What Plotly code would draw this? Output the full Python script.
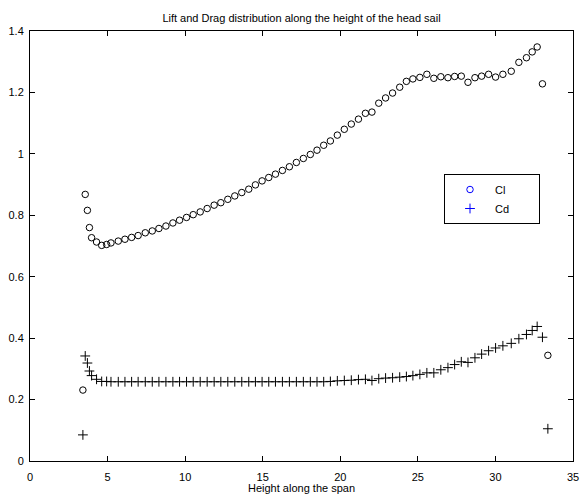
import plotly.graph_objects as go

# Spanwise stations along the head sail and the sectional coefficients
height = [3.41, 3.56, 3.70, 3.83, 3.97, 4.29, 4.62, 4.94, 5.22, 5.69,
          6.12, 6.55, 6.97, 7.43, 7.88, 8.31, 8.76, 9.21, 9.64, 10.09,
          10.52, 10.97, 11.42, 11.87, 12.30, 12.75, 13.20, 13.65, 14.10, 14.53,
          14.96, 15.39, 15.82, 16.27, 16.72, 17.17, 17.62, 18.07, 18.50, 18.93,
          19.36, 19.81, 20.26, 20.71, 21.17, 21.62, 22.04, 22.48, 22.92, 23.37,
          23.83, 24.26, 24.68, 25.13, 25.58, 26.03, 26.48, 26.94, 27.37, 27.80,
          28.23, 28.68, 29.11, 29.56, 30.01, 30.48, 31.02, 31.51, 32.00, 32.37,
          32.69, 33.03, 33.38]

cl = [0.231, 0.868, 0.816, 0.760, 0.727, 0.713, 0.702, 0.705, 0.710, 0.716,
      0.722, 0.728, 0.734, 0.743, 0.749, 0.757, 0.765, 0.775, 0.784, 0.793,
      0.802, 0.811, 0.822, 0.833, 0.841, 0.852, 0.863, 0.874, 0.885, 0.899,
      0.912, 0.923, 0.934, 0.946, 0.958, 0.972, 0.985, 0.998, 1.012, 1.028,
      1.042, 1.061, 1.080, 1.097, 1.113, 1.132, 1.136, 1.165, 1.182, 1.198,
      1.217, 1.236, 1.244, 1.249, 1.259, 1.246, 1.251, 1.248, 1.252, 1.253,
      1.233, 1.248, 1.253, 1.259, 1.250, 1.259, 1.269, 1.298, 1.313, 1.332,
      1.348, 1.228, 0.344]

cd = [0.085, 0.342, 0.319, 0.293, 0.278, 0.266, 0.259, 0.259, 0.258, 0.258,
      0.258, 0.258, 0.258, 0.258, 0.258, 0.258, 0.258, 0.258, 0.258, 0.258,
      0.258, 0.258, 0.258, 0.258, 0.258, 0.258, 0.258, 0.258, 0.258, 0.258,
      0.258, 0.258, 0.258, 0.258, 0.258, 0.258, 0.258, 0.258, 0.258, 0.258,
      0.259, 0.261, 0.262, 0.263, 0.265, 0.266, 0.262, 0.268, 0.270, 0.271,
      0.273, 0.275, 0.278, 0.282, 0.287, 0.287, 0.297, 0.304, 0.314, 0.323,
      0.321, 0.336, 0.348, 0.359, 0.368, 0.375, 0.383, 0.398, 0.412, 0.425,
      0.438, 0.403, 0.105]

x_ticks = [0, 5, 10, 15, 20, 25, 30, 35]
y_ticks = [0, 0.2, 0.4, 0.6, 0.8, 1.0, 1.2, 1.4]
y_tick_labels = ["0", "0.2", "0.4", "0.6", "0.8", "1", "1.2", "1.4"]

FONT = "Liberation Sans, Arial, Helvetica, sans-serif"
W, H = 581, 495
L, R, T, B = 30, 8, 31, 34
PW, PH = W - L - R, H - T - B

fig = go.Figure()

# Data markers (black)
fig.add_trace(go.Scatter(
    x=height, y=cl, mode="markers", showlegend=False, name="Cl",
    marker=dict(symbol="circle-open", size=6.5, color="black",
                line=dict(width=1, color="black")),
))
fig.add_trace(go.Scatter(
    x=height, y=cd, mode="markers", showlegend=False, name="Cd",
    marker=dict(symbol="cross-thin-open", size=7, color="black",
                line=dict(width=1, color="black")),
))

# Legend keys (blue)
nb = "\u00a0" * 8
fig.add_trace(go.Scatter(
    x=[None], y=[None], mode="markers", name="Cl" + nb,
    marker=dict(symbol="circle-open", size=6.5, color="#0000ff",
                line=dict(width=1, color="#0000ff")),
))
fig.add_trace(go.Scatter(
    x=[None], y=[None], mode="markers", name="Cd" + nb,
    marker=dict(symbol="cross-thin-open", size=7, color="#0000ff",
                line=dict(width=1, color="#0000ff")),
))

axis_common = dict(
    showline=True, linecolor="black", linewidth=1, mirror="ticks",
    ticks="inside", ticklen=5, tickcolor="black", tickwidth=1,
    showgrid=False, zeroline=False, automargin=False,
    tickfont=dict(family=FONT, size=11, color="black"),
)

fig.update_layout(
    width=W, height=H,
    margin=dict(l=L, r=R, t=T, b=B, pad=0, autoexpand=False),
    paper_bgcolor="white", plot_bgcolor="white",
    font=dict(family=FONT, size=11, color="black"),
    title=dict(text="Lift and Drag distribution along the height of the head sail",
               x=(L + PW / 2) / W, xanchor="center",
               y=1 - 18.5 / H, yanchor="middle", yref="container",
               font=dict(family=FONT, size=11, color="black")),
    xaxis=dict(range=[0, 35], tickvals=x_ticks, ticklabelstandoff=6,
               **axis_common),
    yaxis=dict(range=[0, 1.4], tickvals=y_ticks, ticktext=y_tick_labels,
               ticklabelstandoff=3,
               **axis_common),
    legend=dict(x=(444 - L) / PW, y=(H - B - 174) / PH,
                xanchor="left", yanchor="top", itemwidth=40,
                bgcolor="white", bordercolor="black", borderwidth=1,
                font=dict(family=FONT, size=11, color="black"),
                tracegroupgap=0),
    annotations=[dict(
        text="Height along the span", showarrow=False,
        xref="paper", yref="paper", x=0.5, xanchor="center",
        y=(H - B - 488) / PH, yanchor="middle",
        font=dict(family=FONT, size=11, color="black"),
    )],
)

fig.write_html("out.html")
